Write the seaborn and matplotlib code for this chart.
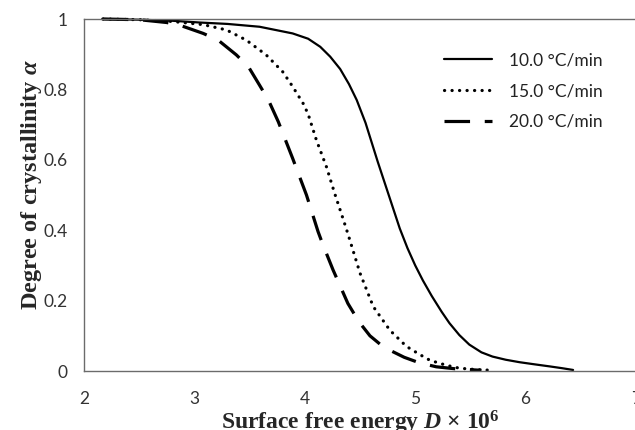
import matplotlib
matplotlib.use("Agg")
import matplotlib.pyplot as plt
import seaborn as sns
import pandas as pd

# Degree of crystallinity vs. surface free energy for three cooling rates
rates = ["10.0 °C/min", "15.0 °C/min", "20.0 °C/min"]

d_10 = [2.17, 2.5, 2.8, 3.05, 3.3, 3.59, 3.89, 4.03, 4.14, 4.23, 4.32, 4.40,
        4.47, 4.55, 4.66, 4.76, 4.86, 4.93, 5.00, 5.07, 5.15, 5.24, 5.31,
        5.40, 5.49, 5.60, 5.70, 5.82, 5.945, 6.08, 6.22, 6.33, 6.43]
a_10 = [1.0, 0.998, 0.995, 0.99, 0.986, 0.978, 0.959, 0.944, 0.921, 0.893,
        0.858, 0.815, 0.77, 0.705, 0.595, 0.50, 0.405, 0.349, 0.30, 0.257,
        0.213, 0.168, 0.136, 0.102, 0.075, 0.053, 0.041, 0.032, 0.025, 0.019,
        0.013, 0.008, 0.003]

d_15 = [2.17, 2.5, 2.8, 3.08, 3.29, 3.47, 3.65, 3.80, 3.89, 3.985, 4.03,
        4.105, 4.196, 4.27, 4.35, 4.39, 4.50, 4.62, 4.77, 4.92, 5.04, 5.13,
        5.22, 5.30, 5.40, 5.55, 5.70]
a_15 = [1.0, 0.998, 0.993, 0.984, 0.969, 0.94, 0.898, 0.85, 0.808, 0.76,
        0.73, 0.656, 0.58, 0.505, 0.429, 0.39, 0.278, 0.183, 0.116, 0.07,
        0.047, 0.031, 0.022, 0.015, 0.008, 0.004, 0.002]

d_20 = [2.17, 2.5, 2.75, 2.88, 3.08, 3.215, 3.38, 3.49, 3.59, 3.67, 3.76,
        3.89, 4.015, 4.12, 4.165, 4.256, 4.39, 4.49, 4.59, 4.69, 4.79, 4.90,
        5.04, 5.19, 5.37, 5.6]
a_20 = [1.0, 0.998, 0.99, 0.981, 0.959, 0.94, 0.898, 0.864, 0.812, 0.77,
        0.708, 0.604, 0.5, 0.396, 0.358, 0.287, 0.192, 0.14, 0.10, 0.074,
        0.056, 0.039, 0.023, 0.012, 0.006, 0.002]

x_ticks = [2, 3, 4, 5, 6, 7]
y_ticks = [0, 0.2, 0.4, 0.6, 0.8, 1]
y_tick_labels = ["0", "0.2", "0.4", "0.6", "0.8", "1"]

frames = []
for rate, d, a in zip(rates, [d_10, d_15, d_20], [a_10, a_15, a_20]):
    frames.append(pd.DataFrame({"D": d, "alpha": a, "rate": rate}))
df = pd.concat(frames, ignore_index=True)

sns.set_theme(style="white")
plt.rcParams["font.family"] = ["Lato", "DejaVu Sans"]
plt.rcParams["mathtext.fontset"] = "custom"
plt.rcParams["mathtext.rm"] = "Liberation Serif:bold"
plt.rcParams["mathtext.it"] = "Liberation Serif:italic:bold"
plt.rcParams["mathtext.bf"] = "Liberation Serif:bold"

fig = plt.figure(figsize=(6.35, 4.30), dpi=100)
ax = fig.add_axes([0.1323, 0.1372, 0.8693, 0.8186])

line_styles = {
    rates[0]: dict(lw=1.6),
    rates[1]: dict(lw=2.3, dashes=(0.05, 2.3), dash_capstyle="round"),
    rates[2]: dict(lw=2.3, dashes=(8.0, 4.6), dash_capstyle="butt"),
}

for rate in rates:
    sub = df[df["rate"] == rate]
    sns.lineplot(data=sub, x="D", y="alpha", ax=ax, color="black",
                 label=rate, estimator=None, sort=False, clip_on=False,
                 **line_styles[rate])

ax.set_xlim(2, 7)
ax.set_ylim(0, 1)
ax.set_xticks(x_ticks)
ax.set_xticklabels([str(t) for t in x_ticks])
ax.set_yticks(y_ticks)
ax.set_yticklabels(y_tick_labels)

spine_col = "#6b6b6b"
for side in ["left", "bottom", "top"]:
    ax.spines[side].set_color(spine_col)
    ax.spines[side].set_linewidth(1.0)
ax.spines["right"].set_visible(False)

ax.tick_params(axis="both", which="major", direction="out", length=4.5,
               width=1.0, color=spine_col, labelsize=12.5,
               labelcolor="#333333", pad=7.5)
ax.tick_params(axis="x", pad=10)

ax.set_xlabel(r"Surface free energy $D$ $\times$ 10$^{6}$",
              family="Liberation Serif", fontweight="bold", fontsize=17,
              labelpad=1.0)
ax.set_ylabel(r"Degree of crystallinity $\alpha$",
              family="Liberation Serif", fontweight="bold", fontsize=17.5,
              labelpad=0)
ax.yaxis.set_label_coords(-0.073, 0.53)

leg = ax.legend(loc="upper left", bbox_to_anchor=(0.64, 0.925), frameon=False,
                fontsize=12.5, handlelength=2.75, handletextpad=1.0,
                labelspacing=0.85, borderaxespad=0)
for txt in leg.get_texts():
    txt.set_color("#222222")

fig.savefig("out.png", dpi=100)
